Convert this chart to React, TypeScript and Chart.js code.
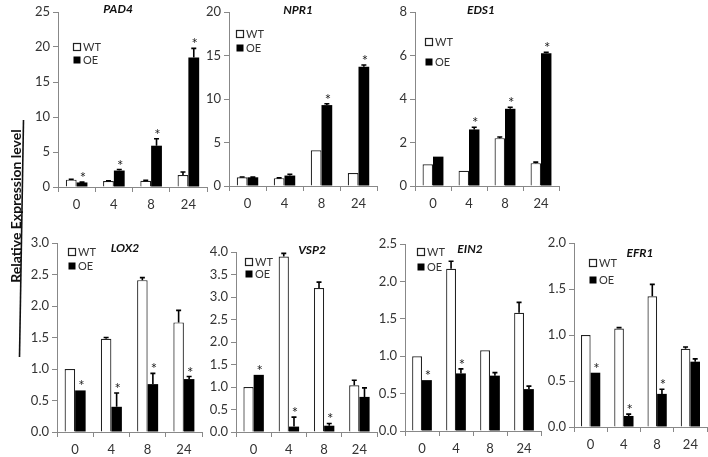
import React, { useEffect, useRef } from "react";
import { Chart, registerables } from "chart.js";
Chart.register(...registerables);

const timepoints = ["0", "4", "8", "24"];

const pad4WT = [1.05, 0.85, 0.9, 1.7];
const pad4WTErr = [0.05, 0.05, 0.05, 0.45];
const pad4OE = [0.65, 2.35, 5.9, 18.5];
const pad4OEErr = [0.05, 0.15, 1.0, 1.3];
const pad4Sig = [1, 1, 1, 1];

const npr1WT = [1.0, 0.9, 4.1, 1.5];
const npr1WTErr = [0.03, 0.03, 0, 0];
const npr1OE = [1.0, 1.2, 9.3, 13.7];
const npr1OEErr = [0.02, 0.15, 0.15, 0.2];
const npr1Sig = [0, 0, 1, 1];

const eds1WT = [1.0, 0.7, 2.2, 1.05];
const eds1WTErr = [0, 0, 0.05, 0.05];
const eds1OE = [1.35, 2.6, 3.55, 6.1];
const eds1OEErr = [0, 0.1, 0.07, 0.05];
const eds1Sig = [0, 1, 1, 1];

const lox2WT = [1.0, 1.48, 2.41, 1.74];
const lox2WTErr = [0, 0.02, 0.04, 0.19];
const lox2OE = [0.66, 0.4, 0.76, 0.84];
const lox2OEErr = [0, 0.22, 0.17, 0.04];
const lox2Sig = [1, 1, 1, 1];

const vsp2WT = [1.0, 3.9, 3.2, 1.04];
const vsp2WTErr = [0, 0.07, 0.13, 0.11];
const vsp2OE = [1.27, 0.12, 0.14, 0.78];
const vsp2OEErr = [0, 0.21, 0.05, 0.2];
const vsp2Sig = [1, 1, 1, 0];

const ein2WT = [1.0, 2.17, 1.08, 1.58];
const ein2WTErr = [0, 0.1, 0, 0.14];
const ein2OE = [0.68, 0.77, 0.74, 0.56];
const ein2OEErr = [0, 0.06, 0.04, 0.04];
const ein2Sig = [1, 1, 0, 0];

const efr1WT = [1.0, 1.07, 1.42, 0.85];
const efr1WTErr = [0, 0.01, 0.13, 0.02];
const efr1OE = [0.59, 0.12, 0.36, 0.71];
const efr1OEErr = [0, 0.02, 0.05, 0.03];
const efr1Sig = [1, 1, 1, 0];

const seriesNames = ["WT", "OE"];
const yAxisTitle = "Relative Expression level";

const FONT = "Lato, 'Liberation Sans', sans-serif";

const panels = [
  { title: "PAD4", wt: pad4WT, wtErr: pad4WTErr, oe: pad4OE, oeErr: pad4OEErr, sig: pad4Sig, yMax: 25, yStep: 5, dec: 0,
    plot: { x0: 58, x1: 207, y0: 12, y1: 187 }, titlePos: { x: 118, y: 9 }, legend: { x: 73, yWT: 47, yOE: 60 } },
  { title: "NPR1", wt: npr1WT, wtErr: npr1WTErr, oe: npr1OE, oeErr: npr1OEErr, sig: npr1Sig, yMax: 20, yStep: 5, dec: 0,
    plot: { x0: 229, x1: 377, y0: 12, y1: 186 }, titlePos: { x: 298, y: 10 }, legend: { x: 236, yWT: 34, yOE: 48 } },
  { title: "EDS1", wt: eds1WT, wtErr: eds1WTErr, oe: eds1OE, oeErr: eds1OEErr, sig: eds1Sig, yMax: 8, yStep: 2, dec: 0,
    plot: { x0: 415, x1: 559, y0: 12, y1: 186 }, titlePos: { x: 481, y: 10 }, legend: { x: 425, yWT: 42, yOE: 62 } },
  { title: "LOX2", wt: lox2WT, wtErr: lox2WTErr, oe: lox2OE, oeErr: lox2OEErr, sig: lox2Sig, yMax: 3, yStep: 0.5, dec: 1,
    plot: { x0: 57, x1: 202, y0: 243, y1: 432 }, titlePos: { x: 125, y: 248 }, legend: { x: 68, yWT: 252, yOE: 266 },
    padLeft: 57, padTop: 140, axisTitle: true },
  { title: "VSP2", wt: vsp2WT, wtErr: vsp2WTErr, oe: vsp2OE, oeErr: vsp2OEErr, sig: vsp2Sig, yMax: 4, yStep: 0.5, dec: 1,
    plot: { x0: 236, x1: 377, y0: 252, y1: 432 }, titlePos: { x: 312, y: 250 }, legend: { x: 245, yWT: 262, yOE: 274 } },
  { title: "EIN2", wt: ein2WT, wtErr: ein2WTErr, oe: ein2OE, oeErr: ein2OEErr, sig: ein2Sig, yMax: 2.5, yStep: 0.5, dec: 1,
    plot: { x0: 405, x1: 541, y0: 244, y1: 431 }, titlePos: { x: 470, y: 249 }, legend: { x: 417, yWT: 252, yOE: 267 } },
  { title: "EFR1", wt: efr1WT, wtErr: efr1WTErr, oe: efr1OE, oeErr: efr1OEErr, sig: efr1Sig, yMax: 2, yStep: 0.5, dec: 1,
    plot: { x0: 574, x1: 707, y0: 243, y1: 427 }, titlePos: { x: 640, y: 253 }, legend: { x: 589, yWT: 263, yOE: 280 } },
];

const LEFT = 50, TOP = 16, RIGHT = 4, BOTTOM = 28;

function PanelChart({ p }: { p: any }) {
  const ref = useRef<HTMLCanvasElement>(null);
  const padLeft = p.padLeft ?? LEFT;
  const padTop = p.padTop ?? TOP;
  const w = p.plot.x1 - p.plot.x0 + padLeft + RIGHT;
  const h = p.plot.y1 - p.plot.y0 + padTop + BOTTOM;
  const cl = p.plot.x0 - padLeft;
  const ct = p.plot.y0 - padTop;

  useEffect(() => {
    if (!ref.current) return;
    const overlay = {
      id: "overlay",
      afterDatasetsDraw(chart: any) {
        const ctx = chart.ctx;
        const ys = chart.scales.y;
        ctx.save();
        const errs = [p.wtErr, p.oeErr];
        const vals = [p.wt, p.oe];
        for (let di = 0; di < 2; di++) {
          const meta = chart.getDatasetMeta(di);
          meta.data.forEach((el: any, i: number) => {
            const e = errs[di][i];
            if (!e) return;
            const x = el.x;
            const yA = ys.getPixelForValue(vals[di][i]);
            const yB = ys.getPixelForValue(vals[di][i] + e);
            ctx.strokeStyle = "#000";
            ctx.lineWidth = 1.6;
            ctx.beginPath();
            ctx.moveTo(x, yA);
            ctx.lineTo(x, yB);
            ctx.moveTo(x - 2.5, yB);
            ctx.lineTo(x + 2.5, yB);
            ctx.stroke();
          });
        }
        // significance stars
        const metaOE = chart.getDatasetMeta(1);
        ctx.fillStyle = "#222";
        ctx.font = `15px ${FONT}`;
        ctx.textAlign = "center";
        ctx.textBaseline = "alphabetic";
        metaOE.data.forEach((el: any, i: number) => {
          if (!p.sig[i]) return;
          const top = ys.getPixelForValue(p.oe[i] + (p.oeErr[i] || 0));
          ctx.fillText("*", el.x + 1, top + 1);
        });
        // title
        ctx.font = `italic bold 12px ${FONT}`;
        ctx.fillStyle = "#111";
        ctx.textAlign = "center";
        ctx.textBaseline = "middle";
        ctx.fillText(p.title, p.titlePos.x - cl, p.titlePos.y - ct);
        // legend
        const lx = p.legend.x - cl;
        const yW = p.legend.yWT - ct;
        const yO = p.legend.yOE - ct;
        ctx.fillStyle = "#fff";
        ctx.fillRect(lx, yW - 4, 8, 8);
        ctx.strokeStyle = "#222";
        ctx.lineWidth = 1.2;
        ctx.strokeRect(lx + 0.5, yW - 3.5, 7, 7);
        ctx.fillStyle = "#000";
        ctx.fillRect(lx + 0.5, yO - 3.5, 7, 7);
        ctx.font = `11px ${FONT}`;
        ctx.fillStyle = "#333";
        ctx.textAlign = "left";
        ctx.fillText(seriesNames[0], lx + 10, yW);
        ctx.fillText(seriesNames[1], lx + 10, yO);
        // shared y-axis title and its bracket line
        if (p.axisTitle) {
          ctx.save();
          ctx.translate(16 - cl, 206 - ct);
          ctx.rotate(-Math.PI / 2);
          ctx.font = `bold 14px ${FONT}`;
          ctx.fillStyle = "#111";
          ctx.textAlign = "center";
          ctx.textBaseline = "middle";
          ctx.fillText(yAxisTitle, 0, 0);
          ctx.restore();
          ctx.strokeStyle = "#111";
          ctx.lineWidth = 1.6;
          ctx.beginPath();
          ctx.moveTo(23.5 - cl, 120 - ct);
          ctx.lineTo(19.5 - cl, 357 - ct);
          ctx.stroke();
        }
        ctx.restore();
      },
    };

    const chart = new Chart(ref.current, {
      type: "bar",
      data: {
        labels: timepoints,
        datasets: [
          { label: seriesNames[0], data: p.wt, backgroundColor: "#fff", borderColor: "#222", borderWidth: 1.2,
            categoryPercentage: 0.58, barPercentage: 1.0 },
          { label: seriesNames[1], data: p.oe, backgroundColor: "#000", borderColor: "#000", borderWidth: 0,
            categoryPercentage: 0.58, barPercentage: 1.0 },
        ],
      },
      options: {
        responsive: false,
        animation: false,
        devicePixelRatio: 1,
        layout: { padding: { top: padTop, right: RIGHT, left: 0, bottom: 0 } },
        plugins: { legend: { display: false }, title: { display: false }, tooltip: { enabled: false } },
        scales: {
          x: {
            offset: true,
            grid: { offset: true, drawOnChartArea: false, drawTicks: true, tickLength: 5, color: "#888", lineWidth: 1 },
            border: { display: true, color: "#888", width: 1 },
            ticks: { color: "#333", font: { size: 13, family: FONT }, padding: 5, maxRotation: 0 },
            afterFit: (s: any) => { s.height = BOTTOM; },
          },
          y: {
            min: 0,
            max: p.yMax,
            grid: { drawOnChartArea: false, drawTicks: true, tickLength: 5, color: "#888", lineWidth: 1 },
            border: { display: true, color: "#888", width: 1 },
            ticks: {
              stepSize: p.yStep,
              color: "#333",
              font: { size: 13, family: FONT },
              padding: 3,
              callback: (v: any) => Number(v).toFixed(p.dec),
            },
            afterFit: (s: any) => { s.width = padLeft; },
          },
        },
      },
      plugins: [overlay],
    } as any);
    return () => chart.destroy();
  }, []);

  return (
    <canvas
      ref={ref}
      width={w}
      height={h}
      style={{ position: "absolute", left: cl, top: ct, width: w, height: h, display: "block" }}
    />
  );
}

export default function App() {
  return (
    <div style={{ position: "fixed", left: 0, top: 0, width: 708, height: 457, background: "#fff", overflow: "hidden" }}>
      {panels.map((p) => (
        <PanelChart key={p.title} p={p} />
      ))}
    </div>
  );
}
